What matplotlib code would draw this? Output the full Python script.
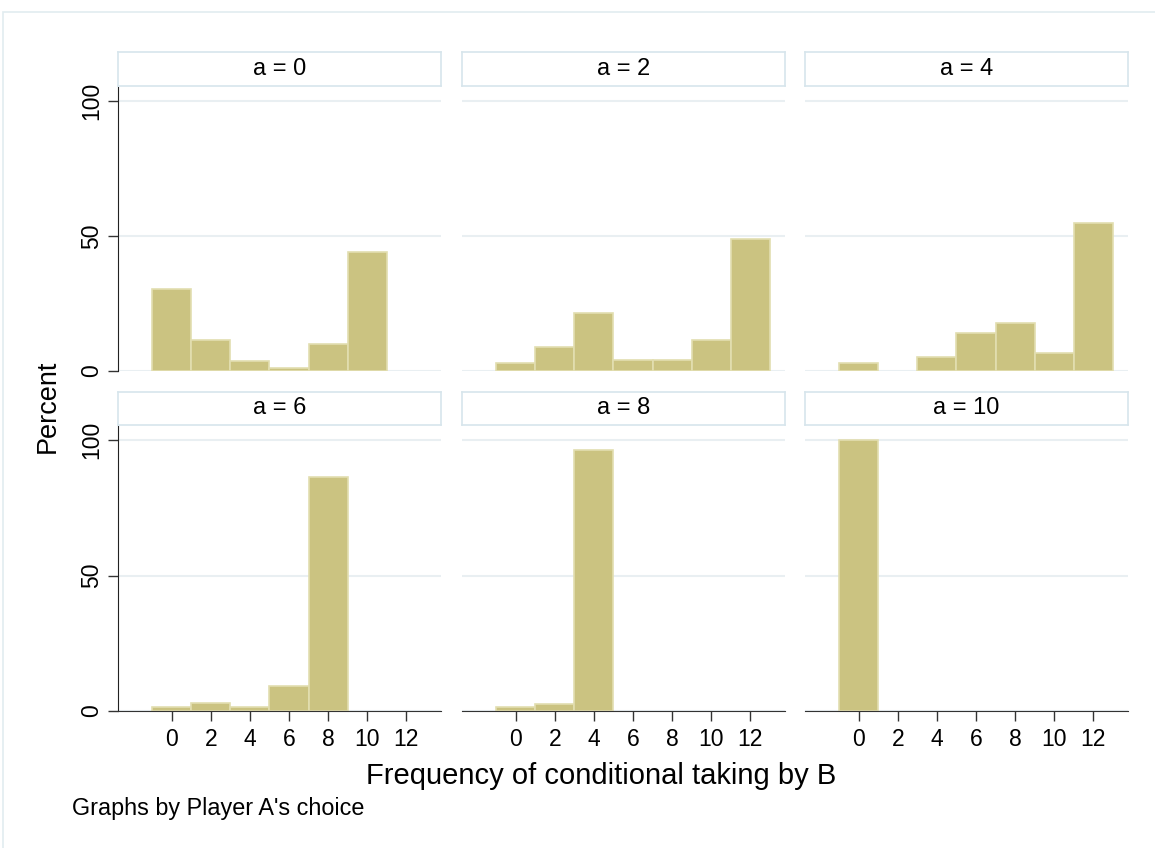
import numpy as np
import matplotlib.pyplot as plt
from matplotlib.patches import Rectangle

plt.rcParams['font.family'] = ['Liberation Sans', 'DejaVu Sans']

# bin centres (frequency of conditional taking by B) and percent per panel
bins = [0, 2, 4, 6, 8, 10, 12]
pct_a0 = [30.2, 11.3, 3.8, 1.2, 10.1, 44.0, 0]
pct_a2 = [2.8, 8.9, 21.3, 4.0, 4.0, 11.5, 48.9]
pct_a4 = [2.8, 0, 5.3, 14.1, 17.8, 6.5, 55.0]
pct_a6 = [1.6, 2.8, 1.6, 9.2, 86.5, 0, 0]
pct_a8 = [1.5, 2.7, 96.3, 0, 0, 0, 0]
pct_a10 = [100.0, 0, 0, 0, 0, 0, 0]

panel_titles = ['a = 0', 'a = 2', 'a = 4', 'a = 6', 'a = 8', 'a = 10']
panel_data = [pct_a0, pct_a2, pct_a4, pct_a6, pct_a8, pct_a10]

W, H = 1155, 848
fig = plt.figure(figsize=(W / 100, H / 100), dpi=100)
fig.patch.set_facecolor('white')

# outer graph region frame (cropped at right/bottom)
fig.patches.append(Rectangle((3 / W, -0.1), 1.2, (H - 12) / H + 0.1, transform=fig.transFigure,
                             fill=False, edgecolor='#e1ecf0', linewidth=1.2))

fill = '#cbc381'
edge = '#e2deb0'
grid = '#e9eff2'

col_left = [118, 462, 805]
col_w = 323
rows = [(87, 371, 52), (426, 711, 392)]  # axes top, axes bottom, strip top


def px_rect(left, top, width, height):
    return [left / W, (H - top - height) / H, width / W, height / H]


for i, (title, pct) in enumerate(zip(panel_titles, panel_data)):
    r, c = divmod(i, 3)
    top, bottom, strip_top = rows[r]
    ax = fig.add_axes(px_rect(col_left[c], top, col_w, bottom - top))

    x = [b for b, p in zip(bins, pct) if p > 0]
    y = [p for p in pct if p > 0]
    ax.bar(x, y, width=2, color=fill, edgecolor=edge, linewidth=1.2, zorder=3)

    ax.set_xlim(-2.75, 13.78)
    ax.set_ylim(0, 105.2)
    ax.set_yticks([0, 50, 100])
    ax.set_xticks(bins)
    ax.yaxis.grid(True, color=grid, linewidth=1.5, zorder=0)
    ax.set_axisbelow(True)
    for s in ['top', 'right']:
        ax.spines[s].set_visible(False)

    ax.tick_params(axis='both', labelsize=16.5, length=7, width=1, color='#333333')
    if c == 0:
        ax.spines['left'].set_color('#222222')
        ax.set_yticklabels(['0', '50', '100'], rotation=90, va='center')
    else:
        ax.spines['left'].set_visible(False)
        ax.tick_params(axis='y', left=False, labelleft=False)
    if r == 1:
        ax.spines['bottom'].set_color('#333333')
        ax.spines['bottom'].set_zorder(4)
        ax.tick_params(axis='x', pad=5)
    else:
        ax.spines['bottom'].set_visible(False)
        ax.tick_params(axis='x', bottom=False, labelbottom=False)

    # strip title box
    sax = fig.add_axes(px_rect(col_left[c], strip_top, col_w, top - 1 - strip_top))
    sax.set_xticks([])
    sax.set_yticks([])
    for s in sax.spines.values():
        s.set_color('#d7e5ec')
        s.set_linewidth(1.2)
    sax.text(0.5, 0.5, title, ha='center', va='center', fontsize=17, transform=sax.transAxes)

fig.text(48 / W, 1 - 406 / H, 'Percent', rotation=90, ha='center', va='center', fontsize=19.5)
fig.text(601 / W, 1 - 776 / H, 'Frequency of conditional taking by B', ha='center', va='center', fontsize=21)
fig.text(72 / W, 1 - 808 / H, "Graphs by Player A's choice", ha='left', va='center', fontsize=16.8)

fig.savefig('out.png', dpi=100)
